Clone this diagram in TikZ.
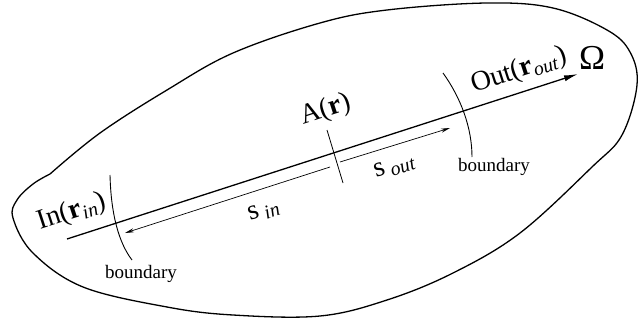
\documentclass[tikz,border=0pt]{standalone}
\usepackage{fontspec}
\setmainfont{Liberation Serif}
\newfontfamily\tms{Liberation Serif}
\usetikzlibrary{arrows.meta}
\begin{document}
\begin{tikzpicture}[x=1pt,y=-1pt,
  lbl/.style={font=\tms\fontsize{28}{30}\selectfont, inner sep=0pt, rotate=18},
  bnd/.style={font=\tms\fontsize{19}{21}\selectfont, inner sep=0pt},
  outline/.style={line width=1.3pt},
  mainline/.style={line width=1.3pt, -{Latex[length=14pt,width=6pt]}},
  thinarrow/.style={line width=0.7pt, -{Stealth[length=9pt,width=4pt]}},
  arcline/.style={line width=0.9pt},
]
\useasboundingbox (0,0) rectangle (639,329);
% region outline
\draw[outline] plot[smooth, tension=0.6] coordinates {
  (50,174) (100,133) (167,90) (233,53) (320,23) (387,10) (487,3) (553,8)
  (607,30) (630,52) (637,85) (622,135) (592,167) (520,233) (453,273)
  (387,300) (320,316) (233,315) (167,307) (83,287) (33,253) (13,218)
  (17,200) (33,184) (50,174)};
% main line
\coordinate (pin) at (67,239);
\coordinate (pout) at (578,74);
\draw[mainline] (pin) -- (pout);
% boundary arcs
\coordinate (b1a) at (110,175);
\coordinate (b1b) at (132,260);
\draw[arcline] (b1a) .. controls (111,215) and (119,243) .. (b1b);
\coordinate (b2a) at (443,73);
\coordinate (b2b) at (472,157);
\draw[arcline] (b2a) .. controls (461,98) and (472,128) .. (b2b);
% tick at A
\coordinate (ta) at (327,130);
\coordinate (tb) at (343,183);
\draw[line width=0.8pt] (ta) -- (tb);
% s arrows
\coordinate (sina) at (330,167);
\coordinate (sinb) at (125,233);
\draw[thinarrow] (sina) -- (sinb);
\coordinate (souta) at (340,162);
\coordinate (soutb) at (450,128);
\draw[thinarrow] (souta) -- (soutb);
% labels
\node[lbl] (lin) at (72,212) {In(\textbf{r}\textsubscript{\textit{in}})};
\node[lbl] (la) at (326,110) {A(\textbf{r})};
\node[lbl] (lout) at (519,71) {Out(\textbf{r}\textsubscript{\textit{out}})};
\node[font=\tms\fontsize{35}{37}\selectfont, inner sep=0pt] (lom) at (592,58) {Ω};
\node[lbl] (lsin) at (264,211) {s\,\textsubscript{\textit{in}}};
\node[lbl] (lsout) at (395,167) {s\,\textsubscript{\textit{out}}};
\node[bnd] (bl) at (141,274) {boundary};
\node[bnd] (br) at (494,167) {boundary};
\end{tikzpicture}
\end{document}
